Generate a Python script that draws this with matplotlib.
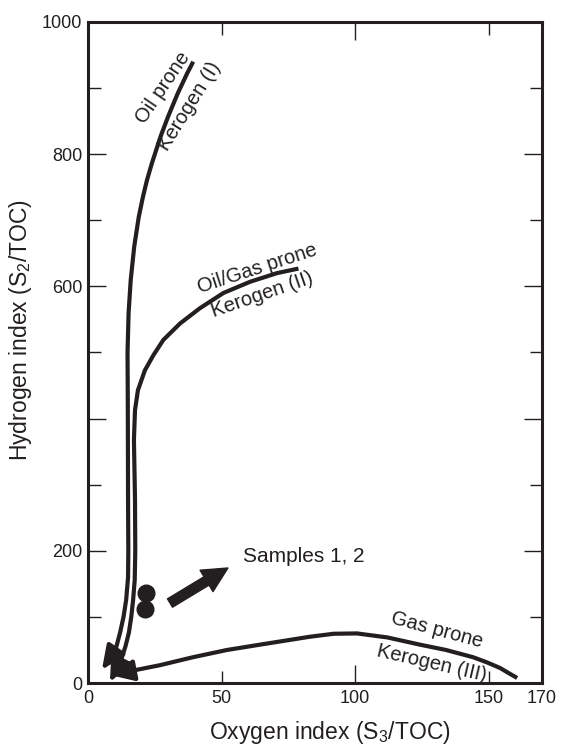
import numpy as np
import matplotlib
matplotlib.use('Agg')
import matplotlib.pyplot as plt

plt.rcParams['font.family'] = ['Liberation Sans', 'DejaVu Sans']
plt.rcParams['mathtext.fontset'] = 'custom'
plt.rcParams['mathtext.rm'] = 'Liberation Sans'
plt.rcParams['mathtext.it'] = 'Liberation Sans'

INK = '#231f20'

# kerogen type curves (oxygen index, hydrogen index)
type1_oi = [39.4, 37.1, 33.6, 30.0, 27.2, 23.9, 22.1, 20.6, 19.0, 17.3, 16.0, 15.2, 14.8, 14.9, 15.0, 15.1, 15.0, 14.3, 13.3, 12.0, 10.3, 5.2]
type1_hi = [940, 922, 892, 857, 827, 786, 761, 736, 705, 660, 610, 560, 500, 428, 277, 200, 160, 126, 100, 76, 50, 20]

type2_oi = [78.8, 70.7, 60.7, 50.7, 41.9, 34.5, 28.2, 24.5, 21.3, 18.7, 17.6, 17.2, 17.6, 17.7, 17.5, 16.9, 16.2, 15.3, 14.0, 12.4, 8.2]
type2_hi = [627, 620, 607, 590, 567, 544, 519, 496, 473, 443, 413, 368, 277, 200, 156, 126, 100, 76, 55, 35, 1.5]

type3_oi = [160.7, 157.5, 154.3, 149.5, 144.2, 134.0, 124.3, 112.0, 100.7, 92.0, 83.1, 64.4, 52.1, 39.3, 27.0, 14.6, 8.2]
type3_hi = [7.6, 15.0, 22.7, 31.0, 39.0, 50.0, 58.0, 69.0, 75.0, 74.5, 70.0, 58.0, 50.0, 39.0, 27.0, 17.0, 12.0]

# samples 1 and 2
sample_oi = [21.7, 21.3]
sample_hi = [136, 112]

# axis ticks
x_ticks = [0, 50, 100, 150, 170]
x_labels = ['0', '50', '100', '150', '170']
y_ticks = [0, 100, 200, 300, 400, 500, 600, 700, 800, 900, 1000]
y_labels = ['0', '', '200', '', '', '', '600', '', '800', '', '1000']

fig = plt.figure(figsize=(5.64, 7.45), dpi=100)
ax = fig.add_axes([88 / 564, 62 / 745, 454 / 564, 661 / 745])
ax.set_xlim(0, 170)
ax.set_ylim(0, 1000)


def curve_with_arrow(xs, ys):
    ax.plot(xs[:-1], ys[:-1], color=INK, lw=3.0, solid_capstyle='butt',
            solid_joinstyle='round')
    ax.annotate('', xy=(xs[-1], ys[-1]), xytext=(xs[-2], ys[-2]),
                arrowprops=dict(arrowstyle='-|>,head_length=0.9,head_width=0.4',
                                color=INK, lw=3.0, shrinkA=0, shrinkB=0,
                                mutation_scale=16))


curve_with_arrow(type1_oi, type1_hi)
curve_with_arrow(type2_oi, type2_hi)
curve_with_arrow(type3_oi, type3_hi)

ax.plot(sample_oi, sample_hi, 'o', color=INK, ms=12, zorder=5)
ax.annotate('', xy=(52.4, 174), xytext=(30.7, 121),
            arrowprops=dict(arrowstyle='simple,head_length=0.9,head_width=0.9,tail_width=0.35',
                            color=INK, shrinkA=0, shrinkB=0, mutation_scale=20))
ax.text(58, 191, 'Samples 1, 2', fontsize=15, color=INK, va='center', ha='left')

txt = dict(fontsize=14.5, color=INK, ha='center', va='center', rotation_mode='anchor')
ax.text(28.1, 900, 'Oil prone', rotation=56, **txt)
ax.text(38.2, 873, 'Kerogen (I)', rotation=58, **txt)
ax.text(63.3, 627, 'Oil/Gas prone', rotation=18, **txt)
ax.text(65.2, 587, 'Kerogen (II)', rotation=19, **txt)
ax.text(130.7, 80, 'Gas prone', rotation=-15, **txt)
ax.text(128.8, 29, 'Kerogen (III)', rotation=-13, **txt)

for s in ax.spines.values():
    s.set_linewidth(2.2)
    s.set_color(INK)

ax.set_xticks(x_ticks)
ax.set_xticklabels(x_labels)
ax.set_yticks(y_ticks)
ax.set_yticklabels(y_labels)
ax.tick_params(direction='in', top=True, right=True, labelsize=13,
               width=1.0, colors=INK, pad=5)
ax.tick_params(axis='y', pad=4)

# long ticks on the round values, short ones between
for val, t in zip(x_ticks, ax.xaxis.get_major_ticks()):
    n = 13 if val == 100 else 9
    if val in (0, 170):
        n = 0
    t.tick1line.set_markersize(n)
    t.tick2line.set_markersize(n)
for val, t in zip(y_ticks, ax.yaxis.get_major_ticks()):
    n = 13 if val % 200 == 0 else 9
    if val in (0, 1000):
        n = 0
    t.tick1line.set_markersize(n)
    t.tick2line.set_markersize(n)

ax.set_xlabel('Oxygen index (S$_3$/TOC)', fontsize=16.5, color=INK)
ax.xaxis.set_label_coords(0.533, -0.054)
ax.set_ylabel('Hydrogen index (S$_2$/TOC)', fontsize=16.5, color=INK)
ax.yaxis.set_label_coords(-0.119, 0.534)

plt.savefig('out.png', dpi=100)
